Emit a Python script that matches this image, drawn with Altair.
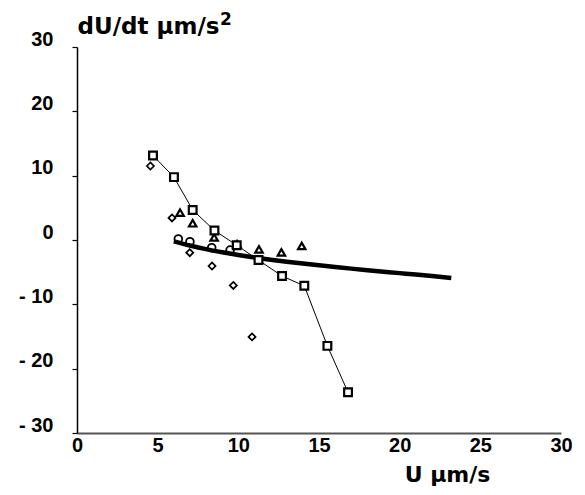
import altair as alt
import pandas as pd

# squares (connected by thin line)
sq_x = [4.71, 6.01, 7.17, 8.52, 9.90, 11.25, 12.71, 14.09, 15.52, 16.80]
sq_y = [13.13, 9.77, 4.67, 1.48, -0.81, -3.12, -5.61, -7.12, -16.46, -23.68]
# diamonds
di_x = [4.55, 5.89, 6.99, 8.37, 9.69, 10.85]
di_y = [11.5, 3.43, -1.97, -4.05, -7.06, -15.06]
# triangles
tr_x = [6.39, 7.17, 8.50, 9.92, 11.28, 12.67, 13.93]
tr_y = [4.26, 2.60, 0.40, -0.65, -1.45, -1.92, -0.93]
# circles
ci_x = [6.28, 7.00, 8.35, 9.49]
ci_y = [0.16, -0.26, -1.20, -1.56]
# thick model curve
fit_x = [6, 7, 8, 9, 10, 11, 12, 13, 14, 15, 16, 17, 18, 19, 20, 21, 22, 23.2]
fit_y = [-0.2, -0.85, -1.42, -1.9, -2.33, -2.72, -3.07, -3.38, -3.67, -3.94,
         -4.2, -4.45, -4.69, -4.92, -5.15, -5.37, -5.6, -5.9]

x_ticks = [0, 5, 10, 15, 20, 25, 30]
y_ticks = [-30, -20, -10, 0, 10, 20, 30]

FONT = "Liberation Sans"
TFONT = "DejaVu Sans"

sq = pd.DataFrame({"x": sq_x, "y": sq_y})
di = pd.DataFrame({"x": di_x, "y": di_y})
tr = pd.DataFrame({"x": tr_x, "y": tr_y})
ci = pd.DataFrame({"x": ci_x, "y": ci_y})
fit = pd.DataFrame({"x": fit_x, "y": fit_y})

xscale = alt.Scale(domain=[0, 30], nice=False, zero=False)
yscale = alt.Scale(domain=[-30, 30], nice=False, zero=False)

xaxis = alt.Axis(
    values=x_ticks, grid=False, ticks=False, labelFont=FONT, labelFontSize=20,
    labelFontWeight="bold", labelColor="black", labelPadding=2, labelBaseline="top",
    labelFlush=False, labelOverlap=False,
    domainColor="#555555", domainWidth=2, title="U µm/s", titleFont=TFONT,
    titleFontSize=22, titleFontWeight="bold", titleColor="black", titleAlign="center",
    titleBaseline="alphabetic", titleX=370, titleY=48,
)
yaxis = alt.Axis(
    values=y_ticks, grid=False, tickSize=5, tickColor="black", tickWidth=1.2,
    labelFont=FONT, labelFontSize=20, labelFontWeight="bold", labelColor="black",
    labelAlign="right", labelBaseline="middle", labelOffset=-8, labelPadding=19,
    labelFlush=False, labelOverlap=False,
    labelExpr="datum.value < 0 ? '- ' + abs(datum.value) : datum.value + '\u00a0\u00a0'",
    domainColor="black", domainWidth=1.5, title="dU/dt µm/s", titleFont=TFONT,
    titleFontSize=23, titleFontWeight="bold", titleColor="black", titleAngle=0,
    titleAlign="left", titleBaseline="alphabetic", titleX=0, titleY=-14,
)

base_x = alt.X("x:Q", scale=xscale, axis=xaxis)
base_y = alt.Y("y:Q", scale=yscale, axis=yaxis)
px = alt.X("x:Q", scale=xscale)
py = alt.Y("y:Q", scale=yscale)

sq_line = alt.Chart(sq).mark_line(color="black", strokeWidth=1).encode(x=base_x, y=base_y, order="x:Q")
di_pts = alt.Chart(di).mark_point(shape="diamond", size=50, filled=False, color="black",
                                  strokeWidth=1.7, opacity=1).encode(x=px, y=py)
ci_pts = alt.Chart(ci).mark_point(shape="circle", size=60, filled=False, color="black",
                                  strokeWidth=1.8, opacity=1).encode(x=px, y=py)
tr_pts = alt.Chart(tr).mark_point(shape="triangle-up", size=55, filled=False, color="black",
                                  strokeWidth=2.2, opacity=1).encode(x=px, y=py)
fit_line = alt.Chart(fit).mark_line(color="black", strokeWidth=4.5, interpolate="monotone").encode(x=px, y=py)
sq_pts = alt.Chart(sq).mark_point(shape="square", size=60, fill="white", stroke="black",
                                  strokeWidth=2.2, opacity=1, fillOpacity=1).encode(x=px, y=py)

sup = alt.Chart(pd.DataFrame({"t": ["2"]})).mark_text(
    font=TFONT, fontSize=17, fontWeight="bold", color="black", align="left", baseline="alphabetic"
).encode(x=alt.value(143), y=alt.value(-22), text="t:N")

chart = alt.layer(sq_line, di_pts, ci_pts, tr_pts, fit_line, sq_pts, sup).properties(
    width=484, height=386,
    autosize=alt.AutoSizeParams(type="none"),
    padding={"left": 69, "top": 39, "right": 14, "bottom": 54},
    background="white",
).configure_view(stroke=None)

chart.save("out.html", embed_options={"renderer": "svg", "actions": False})
